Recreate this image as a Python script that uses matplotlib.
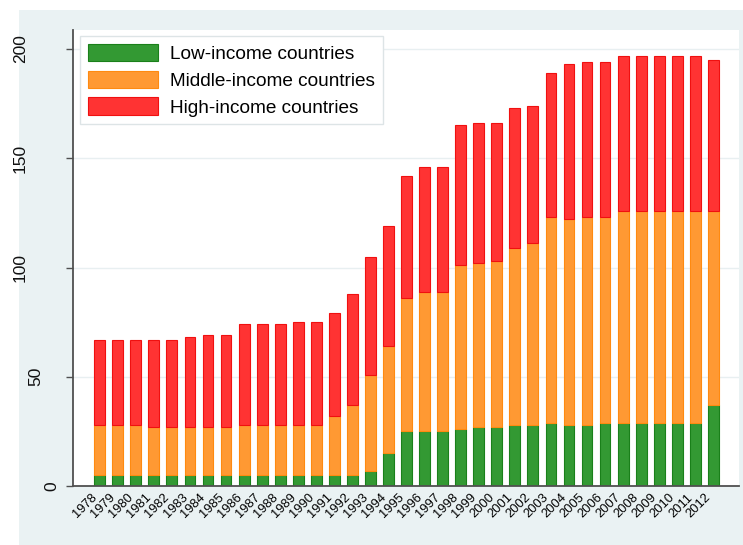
import matplotlib
matplotlib.use("Agg")
import matplotlib.pyplot as plt
import matplotlib.transforms as mtransforms
from matplotlib.patches import Rectangle
import numpy as np

plt.rcParams['font.family'] = ['Liberation Sans', 'DejaVu Sans']

years = list(range(1978, 2013))
low = [5, 5, 5, 5, 5, 5, 5, 5, 5, 5, 5, 5, 5, 5, 5,
       7, 15, 25, 25, 25, 26, 27, 27, 28, 28,
       29, 28, 28, 29, 29, 29, 29, 29, 29, 37]
middle = [23, 23, 23, 22, 22, 22, 22, 22, 23, 23, 23, 23, 23, 27, 32,
          44, 49, 61, 64, 64, 75, 75, 76, 81, 83,
          94, 94, 95, 94, 97, 97, 97, 97, 97, 89]
high = [39, 39, 39, 40, 40, 41, 42, 42, 46, 46, 46, 47, 47, 47, 51,
        54, 55, 56, 57, 57, 64, 64, 63, 64, 63,
        66, 71, 71, 71, 71, 71, 71, 71, 71, 69]
yticks = [0, 50, 100, 150, 200]

W, H = 743, 545
fig = plt.figure(figsize=(W / 100, H / 100), dpi=100)
fig.patch.set_facecolor('white')
fig.add_artist(Rectangle((19 / W, 0), 1 - 19 / W, 1 - 10 / H, transform=fig.transFigure,
                         facecolor='#eaf2f3', edgecolor='none', zorder=-5))

ax = fig.add_axes([73 / W, 1 - 486 / H, (739 - 73) / W, (486 - 30) / H])
ax.set_facecolor('white')

x = np.arange(len(years))
low_a = np.array(low)
mid_a = np.array(middle)
ax.bar(x, low, width=0.6, color='#339933', edgecolor='#1a801a', linewidth=0.8,
       label='Low-income countries')
ax.bar(x, middle, bottom=low_a, width=0.6, color='#ff9933', edgecolor='#ff8a10',
       linewidth=0.8, label='Middle-income countries')
ax.bar(x, high, bottom=low_a + mid_a, width=0.6, color='#ff3333', edgecolor='#f01010',
       linewidth=0.8, label='High-income countries')

ax.set_xlim(-1.48, len(years) - 1 + 1.42)
ax.set_ylim(0, 208.7)

ax.set_yticks(yticks, [''] * len(yticks))
ax.yaxis.grid(True, color='#e8eff1', linewidth=1)
ax.set_axisbelow(True)
ax.tick_params(axis='y', direction='out', length=5, width=1, color='#505050')

# y labels sit at different distances from the axis depending on their length
trans = mtransforms.blended_transform_factory(fig.transFigure, ax.transData)
for v in yticks:
    s = str(v)
    cx = 67 - 15.5 * len(s)
    ax.text(cx / W, v, s, transform=trans, rotation=90, ha='center', va='center',
            fontsize=12.5, color='#111111', clip_on=False)

ax.set_xticks(x, [str(y) for y in years], rotation=45, ha='right', fontsize=9.3)
ax.tick_params(axis='x', length=0, pad=4)

for side in ['top', 'right']:
    ax.spines[side].set_visible(False)
for side in ['left', 'bottom']:
    ax.spines[side].set_color('#505050')
    ax.spines[side].set_linewidth(1.3)

leg = ax.legend(loc='upper left', bbox_to_anchor=(7 / 666, 1 - 6 / 456), borderaxespad=0,
                fontsize=13.7, handlelength=3.7, handleheight=1.05, handletextpad=0.65,
                labelspacing=0.4, borderpad=0.4, fancybox=False, framealpha=1,
                edgecolor='#dde4e6')
leg.get_frame().set_linewidth(1.0)

fig.savefig('out.png', dpi=100, facecolor=fig.get_facecolor())
